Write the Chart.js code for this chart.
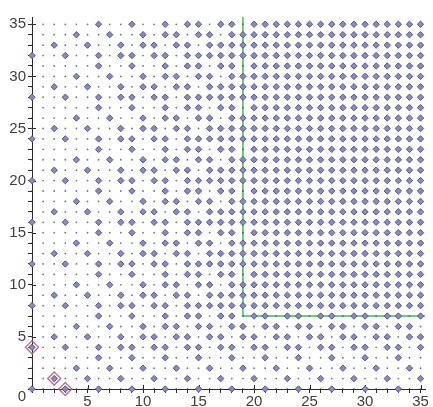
<!DOCTYPE html>
<html>
<head>
<meta charset="utf-8">
<script src="https://cdn.jsdelivr.net/npm/chart.js@4.4.1/dist/chart.umd.min.js"></script>
<style>
  html, body { margin: 0; padding: 0; background: #ffffff; }
  #c { display: block; }
</style>
</head>
<body>
<canvas id="c" width="433" height="407"></canvas>
<script>
// ---- data ----
// lattice coordinates shown (every integer 0..35 on both axes)
const latticeValues = [0,1,2,3,4,5,6,7,8,9,10,11,12,13,14,15,16,17,18,19,20,21,22,23,24,25,26,27,28,29,30,31,32,33,34,35];

// x positions of the blue diamonds, one list per row (index = y)
const diamondRows = [
  /* 0 */ [0,3,6,9,12,15,18,21,24,27,30,33],
  /* 1 */ [2,5,8,11,14,17,20,23,26,29,32,35],
  /* 2 */ [4,7,10,13,16,19,22,25,28,31,34],
  /* 3 */ [6,9,12,15,18,21,24,27,30,33],
  /* 4 */ [0,3,6,8,9,11,12,14,15,17,18,20,21,23,24,26,27,29,30,32,33,35],
  /* 5 */ [2,5,8,10,11,13,14,16,17,19,20,22,23,25,26,28,29,31,32,34,35],
  /* 6 */ [4,7,10,12,13,15,16,18,19,21,22,24,25,27,28,30,31,33,34],
  /* 7 */ [6,9,12,14,15,17,18,20,21,23,24,26,27,29,30,32,33,35],
  /* 8 */ [0,3,6,8,9,11,12,14,15,16,17,18,19,20,21,22,23,24,25,26,27,28,29,30,31,32,33,34,35],
  /* 9 */ [2,5,8,10,11,13,14,16,17,18,19,20,21,22,23,24,25,26,27,28,29,30,31,32,33,34,35],
  /*10 */ [4,7,10,12,13,15,16,18,19,20,21,22,23,24,25,26,27,28,29,30,31,32,33,34,35],
  /*11 */ [6,9,12,14,15,17,18,20,21,22,23,24,25,26,27,28,29,30,31,32,33,34,35],
  /*12 */ [0,3,6,8,9,11,12,14,15,16,17,18,19,20,21,22,23,24,25,26,27,28,29,30,31,32,33,34,35],
  /*13 */ [2,5,8,10,11,13,14,16,17,18,19,20,21,22,23,24,25,26,27,28,29,30,31,32,33,34,35],
  /*14 */ [4,7,10,12,13,15,16,18,19,20,21,22,23,24,25,26,27,28,29,30,31,32,33,34,35],
  /*15 */ [6,9,12,14,15,17,18,20,21,22,23,24,25,26,27,28,29,30,31,32,33,34,35],
  /*16 */ [0,3,6,8,9,11,12,14,15,16,17,18,19,20,21,22,23,24,25,26,27,28,29,30,31,32,33,34,35],
  /*17 */ [2,5,8,10,11,13,14,16,17,18,19,20,21,22,23,24,25,26,27,28,29,30,31,32,33,34,35],
  /*18 */ [4,7,10,12,13,15,16,18,19,20,21,22,23,24,25,26,27,28,29,30,31,32,33,34,35],
  /*19 */ [6,9,12,14,15,17,18,20,21,22,23,24,25,26,27,28,29,30,31,32,33,34,35],
  /*20 */ [0,3,6,8,9,11,12,14,15,16,17,18,19,20,21,22,23,24,25,26,27,28,29,30,31,32,33,34,35],
  /*21 */ [2,5,8,10,11,13,14,16,17,18,19,20,21,22,23,24,25,26,27,28,29,30,31,32,33,34,35],
  /*22 */ [4,7,10,12,13,15,16,18,19,20,21,22,23,24,25,26,27,28,29,30,31,32,33,34,35],
  /*23 */ [6,9,12,14,15,17,18,20,21,22,23,24,25,26,27,28,29,30,31,32,33,34,35],
  /*24 */ [0,3,6,8,9,11,12,14,15,16,17,18,19,20,21,22,23,24,25,26,27,28,29,30,31,32,33,34,35],
  /*25 */ [2,5,8,10,11,13,14,16,17,18,19,20,21,22,23,24,25,26,27,28,29,30,31,32,33,34,35],
  /*26 */ [4,7,10,12,13,15,16,18,19,20,21,22,23,24,25,26,27,28,29,30,31,32,33,34,35],
  /*27 */ [6,9,12,14,15,17,18,20,21,22,23,24,25,26,27,28,29,30,31,32,33,34,35],
  /*28 */ [0,3,6,8,9,11,12,14,15,16,17,18,19,20,21,22,23,24,25,26,27,28,29,30,31,32,33,34,35],
  /*29 */ [2,5,8,10,11,13,14,16,17,18,19,20,21,22,23,24,25,26,27,28,29,30,31,32,33,34,35],
  /*30 */ [4,7,10,12,13,15,16,18,19,20,21,22,23,24,25,26,27,28,29,30,31,32,33,34,35],
  /*31 */ [6,9,12,14,15,17,18,20,21,22,23,24,25,26,27,28,29,30,31,32,33,34,35],
  /*32 */ [0,3,6,8,9,11,12,14,15,16,17,18,19,20,21,22,23,24,25,26,27,28,29,30,31,32,33,34,35],
  /*33 */ [2,5,8,10,11,13,14,16,17,18,19,20,21,22,23,24,25,26,27,28,29,30,31,32,33,34,35],
  /*34 */ [4,7,10,12,13,15,16,18,19,20,21,22,23,24,25,26,27,28,29,30,31,32,33,34,35],
  /*35 */ [6,9,12,14,15,17,18,20,21,22,23,24,25,26,27,28,29,30,31,32,33,34,35]
];

// highlighted (red) diamonds
const generatorX = [0, 2, 3];
const generatorY = [4, 1, 0];

// green boundary polyline
const boundaryX = [19, 19, 36];
const boundaryY = [36, 7, 7];

// tick labels
const xTickLabels = {5:'5', 10:'10', 15:'15', 20:'20', 25:'25', 30:'30', 35:'35'};
const yTickLabels = {0:['', '0'], 5:'5', 10:'10', 15:'15', 20:'20', 25:'25', 30:'30', 35:'35'};
const majorTicks = [0, 5, 10, 15, 20, 25, 30, 35];

// ---- build datasets ----
const dotData = [];
latticeValues.forEach(y => latticeValues.forEach(x => dotData.push({x, y})));
const diamondData = [];
diamondRows.forEach((row, y) => row.forEach(x => diamondData.push({x, y})));
const genData = generatorX.map((x, i) => ({x, y: generatorY[i]}));
const boundaryData = boundaryX.map((x, i) => ({x, y: boundaryY[i]}));

const FONT = {family: "'Liberation Sans', Arial, sans-serif", size: 15, lineHeight: 1};
const LABEL_COLOR = '#404040';
const AXIS_COLOR = '#2a2a2a';

const innerTicks = {
  id: 'innerTicks',
  beforeDatasetsDraw(chart) {
    const {ctx, scales: {x, y}} = chart;
    ctx.save();
    ctx.strokeStyle = AXIS_COLOR;
    ctx.lineWidth = 1;
    ctx.beginPath();
    majorTicks.forEach(v => {
      if (v === 0) return;
      const px = Math.round(x.getPixelForValue(v)) + 0.5;
      const y0 = y.getPixelForValue(0);
      ctx.moveTo(px, y0); ctx.lineTo(px, y0 - 4);
      const py = Math.round(y.getPixelForValue(v)) + 0.5;
      const x0 = x.getPixelForValue(0);
      ctx.moveTo(x0, py); ctx.lineTo(x0 + 4, py);
    });
    ctx.stroke();
    ctx.restore();
  }
};

new Chart(document.getElementById('c'), {
  type: 'scatter',
  data: {
    datasets: [
      {
        label: 'generators',
        data: genData,
        order: 0,
        clip: false,
        pointStyle: 'rectRot',
        pointRadius: 6.5,
        pointBorderWidth: 1.5,
        pointBorderColor: 'rgba(190,100,130,0.9)',
        pointBackgroundColor: 'rgba(0,0,0,0)'
      },
      {
        label: 'elements',
        data: diamondData,
        order: 1,
        clip: false,
        pointStyle: 'rectRot',
        pointRadius: 3.2,
        pointBorderWidth: 1,
        pointBorderColor: '#58588f',
        pointBackgroundColor: '#8a8abb'
      },
      {
        label: 'lattice',
        data: dotData,
        order: 2,
        clip: false,
        pointStyle: 'circle',
        pointRadius: 0.9,
        pointBorderWidth: 0,
        pointBackgroundColor: 'rgba(70,70,70,0.75)'
      },
      {
        label: 'boundary',
        type: 'line',
        data: boundaryData,
        order: 3,
        showLine: true,
        borderColor: '#3cbf4a',
        borderWidth: 1.5,
        pointRadius: 0,
        fill: false,
        tension: 0
      }
    ]
  },
  options: {
    responsive: false,
    animation: false,
    devicePixelRatio: 1,
    layout: {padding: {top: 17, right: 4.5, left: 0, bottom: 0}},
    plugins: {legend: {display: false}, tooltip: {enabled: false}},
    events: [],
    scales: {
      x: {
        type: 'linear',
        min: 0,
        max: 35.4,
        afterBuildTicks: s => { s.ticks = latticeValues.map(v => ({value: v})); },
        afterFit: s => { s.height = 18; },
        border: {display: true, color: AXIS_COLOR, width: 1},
        grid: {display: true, drawOnChartArea: false, drawTicks: true, tickLength: 4, color: AXIS_COLOR, lineWidth: 1},
        ticks: {
          autoSkip: false, maxRotation: 0, padding: 1,
          color: LABEL_COLOR, font: FONT,
          callback: v => xTickLabels[v] || ''
        }
      },
      y: {
        type: 'linear',
        min: 0,
        max: 35.7,
        afterBuildTicks: s => { s.ticks = latticeValues.map(v => ({value: v})); },
        afterFit: s => { s.width = 32; },
        border: {display: true, color: AXIS_COLOR, width: 1},
        grid: {display: true, drawOnChartArea: false, drawTicks: true, tickLength: 4, color: AXIS_COLOR, lineWidth: 1},
        ticks: {
          autoSkip: false, padding: 2,
          color: LABEL_COLOR, font: FONT,
          callback: v => yTickLabels[v] || ''
        }
      }
    }
  },
  plugins: [innerTicks]
});
</script>
</body>
</html>
